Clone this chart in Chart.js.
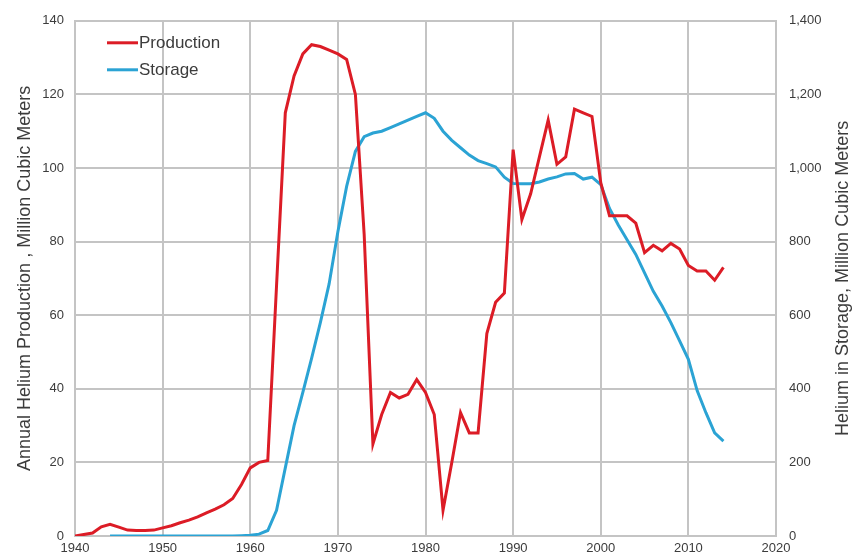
<!DOCTYPE html>
<html>
<head>
<meta charset="utf-8">
<script src="https://cdn.jsdelivr.net/npm/chart.js@4/dist/chart.umd.min.js"></script>
<style>
  html, body { margin: 0; padding: 0; background: #ffffff; }
  #wrap { width: 853px; height: 560px; }
</style>
</head>
<body>
<div id="wrap"><canvas id="chart" width="853" height="560"></canvas></div>
<script>
// Annual helium production (million m³, left axis) and helium in storage (million m³, right axis)
const years = [
  1940, 1941, 1942, 1943, 1944, 1945, 1946, 1947, 1948, 1949,
  1950, 1951, 1952, 1953, 1954, 1955, 1956, 1957, 1958, 1959,
  1960, 1961, 1962, 1963, 1964, 1965, 1966, 1967, 1968, 1969,
  1970, 1971, 1972, 1973, 1974, 1975, 1976, 1977, 1978, 1979,
  1980, 1981, 1982, 1983, 1984, 1985, 1986, 1987, 1988, 1989,
  1990, 1991, 1992, 1993, 1994, 1995, 1996, 1997, 1998, 1999,
  2000, 2001, 2002, 2003, 2004, 2005, 2006, 2007, 2008, 2009,
  2010, 2011, 2012, 2013, 2014
];

const production = [
  0, 0.4, 0.8, 2.5, 3.2, 2.4, 1.6, 1.5, 1.5, 1.6,
  2.2, 2.8, 3.6, 4.3, 5.2, 6.3, 7.3, 8.5, 10.2, 14,
  18.5, 20, 20.5, 68, 115, 125, 131, 133.5, 133, 132,
  131, 129.5, 120, 82, 25, 33, 39, 37.5, 38.5, 42.5,
  39, 33, 7, 20, 33.5, 28, 28, 55, 63.5, 66,
  105, 86, 93, 103, 113, 101, 103, 116, 115, 114,
  96, 87, 87, 87, 85, 77, 79, 77.5, 79.5, 78,
  73.5, 72, 72, 69.5, 73
];

const storage = [
  null, null, null, null, 0, 0, 0, 0, 0, 0,
  0, 0, 0, 0, 0, 0, 0, 0, 0, 1,
  2, 5, 15, 70, 185, 300, 390, 483, 580, 685,
  827, 950, 1045, 1085, 1095, 1100, 1110, 1120, 1130, 1140,
  1150, 1135, 1100, 1075, 1055, 1035, 1020, 1012, 1003, 975,
  958, 957, 957, 962, 970, 976, 984, 985, 970, 975,
  955, 890, 845, 805, 765, 715, 665, 625, 580, 530,
  480, 395, 335, 280, 258
];

const yearTicks = [1940, 1950, 1960, 1970, 1980, 1990, 2000, 2010, 2020];
const productionTicks = [0, 20, 40, 60, 80, 100, 120, 140];
const storageTicks = [0, 200, 400, 600, 800, 1000, 1200, 1400];

const seriesNames = ['Production', 'Storage'];
const seriesColors = ['#dc1c26', '#2ba3d4'];
const leftTitle = 'Annual Helium Production , Million Cubic Meters';
const rightTitle = 'Helium in Storage, Million Cubic Meters';

const FONT = "'Liberation Sans', Arial, sans-serif";
const TEXT = '#3c3c3c';
const GRID = '#c4c4c4';

function points(values) {
  return years.map((yr, i) => ({ x: yr, y: values[i] }));
}

// Legend drawn inside the plot, top-left
const insideLegend = {
  id: 'insideLegend',
  afterDatasetsDraw(chart) {
    const ctx = chart.ctx;
    const area = chart.chartArea;
    const x0 = area.left + 32;
    const rows = [area.top + 22, area.top + 49];
    ctx.save();
    ctx.font = '17px ' + FONT;
    ctx.textBaseline = 'middle';
    ctx.textAlign = 'left';
    seriesNames.forEach((name, i) => {
      const y = rows[i];
      ctx.strokeStyle = seriesColors[i];
      ctx.lineWidth = 3;
      ctx.beginPath();
      ctx.moveTo(x0, y);
      ctx.lineTo(x0 + 31, y);
      ctx.stroke();
      ctx.fillStyle = TEXT;
      ctx.fillText(name, x0 + 32, y + 1);
    });
    ctx.restore();
  }
};

// Right-hand axis title, reading bottom to top like the left one
const rightAxisTitle = {
  id: 'rightAxisTitle',
  afterDraw(chart) {
    const s = chart.scales.y2;
    const ctx = chart.ctx;
    ctx.save();
    ctx.translate(s.right - 10, (s.top + s.bottom) / 2);
    ctx.rotate(-Math.PI / 2);
    ctx.font = '18px ' + FONT;
    ctx.fillStyle = TEXT;
    ctx.textAlign = 'center';
    ctx.textBaseline = 'middle';
    ctx.fillText(rightTitle, 0, 0);
    ctx.restore();
  }
};

new Chart(document.getElementById('chart'), {
  type: 'line',
  data: {
    datasets: [
      {
        label: seriesNames[0],
        data: points(production),
        yAxisID: 'y',
        borderColor: seriesColors[0],
        backgroundColor: seriesColors[0],
        borderWidth: 3,
        pointRadius: 0,
        tension: 0,
        order: 1
      },
      {
        label: seriesNames[1],
        data: points(storage),
        yAxisID: 'y2',
        borderColor: seriesColors[1],
        backgroundColor: seriesColors[1],
        borderWidth: 3,
        pointRadius: 0,
        tension: 0,
        spanGaps: false,
        order: 2
      }
    ]
  },
  options: {
    responsive: false,
    animation: false,
    events: [],
    layout: { padding: { top: 18, left: 0, right: 0, bottom: 0 } },
    plugins: {
      legend: { display: false },
      tooltip: { enabled: false }
    },
    scales: {
      x: {
        type: 'linear',
        min: yearTicks[0],
        max: yearTicks[yearTicks.length - 1],
        afterBuildTicks(scale) { scale.ticks = yearTicks.map(v => ({ value: v })); },
        afterFit(scale) { scale.height = 24; },
        grid: { color: GRID, lineWidth: 2, drawTicks: false },
        border: { color: GRID, width: 2 },
        ticks: {
          padding: 5,
          color: TEXT,
          font: { family: FONT, size: 13 },
          callback: v => String(v)
        }
      },
      y: {
        position: 'left',
        min: 0,
        max: productionTicks[productionTicks.length - 1],
        afterBuildTicks(scale) { scale.ticks = productionTicks.map(v => ({ value: v })); },
        afterFit(scale) { scale.width = 75; },
        grid: { color: GRID, lineWidth: 2, drawTicks: false },
        border: { color: GRID, width: 2 },
        ticks: {
          padding: 11,
          color: TEXT,
          font: { family: FONT, size: 13 }
        },
        title: {
          display: true,
          text: leftTitle,
          color: TEXT,
          font: { family: FONT, size: 18 },
          padding: { top: 14, bottom: 0 }
        }
      },
      y2: {
        position: 'right',
        min: 0,
        max: storageTicks[storageTicks.length - 1],
        afterBuildTicks(scale) { scale.ticks = storageTicks.map(v => ({ value: v })); },
        afterFit(scale) { scale.width = 77; },
        grid: { drawOnChartArea: false, drawTicks: false },
        border: { color: GRID, width: 2 },
        ticks: {
          padding: 13,
          color: TEXT,
          font: { family: FONT, size: 13 },
          callback: v => Number(v).toLocaleString('en-US')
        }
      }
    }
  },
  plugins: [insideLegend, rightAxisTitle]
});
</script>
</body>
</html>
